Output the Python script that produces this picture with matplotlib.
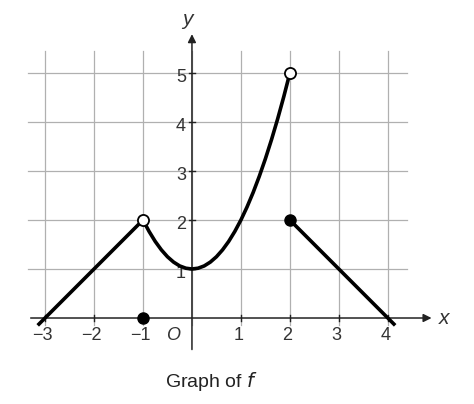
import matplotlib.pyplot as plt

plt.rcParams['font.family'] = ['Liberation Sans', 'DejaVu Sans']

# pieces of f
left_x = [-3.15, -1]
left_y = [-0.15, 2]
curve_x = [-1, -0.875, -0.75, -0.625, -0.5, -0.375, -0.25, -0.125, 0,
           0.125, 0.25, 0.375, 0.5, 0.625, 0.75, 0.875, 1,
           1.125, 1.25, 1.375, 1.5, 1.625, 1.75, 1.875, 2]
curve_y = [2, 1.766, 1.5625, 1.391, 1.25, 1.141, 1.0625, 1.016, 1,
           1.016, 1.0625, 1.141, 1.25, 1.391, 1.5625, 1.766, 2,
           2.266, 2.5625, 2.891, 3.25, 3.641, 4.0625, 4.516, 5]
right_x = [2, 4.15]
right_y = [2, -0.15]
open_pts = [(-1, 2), (2, 5)]
filled_pts = [(-1, 0), (2, 2)]
x_ticks = [-3, -2, -1, 1, 2, 3, 4]
y_ticks = [1, 2, 3, 4, 5]

fig = plt.figure(figsize=(4.74, 4.04), dpi=100)
ax = fig.add_axes([0, 0, 1, 1])
ax.set_xlim(-3.92, 5.76)
ax.set_ylim(-1.755, 6.49)
ax.axis('off')

grid_c = '#b0b0b0'
for gx in x_ticks + [0]:
    ax.plot([gx, gx], [-0.15, 5.45], color=grid_c, lw=0.9, zorder=1)
for gy in y_ticks:
    ax.plot([-3.35, 4.4], [gy, gy], color=grid_c, lw=0.9, zorder=1)

# axes with arrows
ax.annotate('', xy=(4.95, 0), xytext=(-3.35, 0),
            arrowprops=dict(arrowstyle='-|>', color='#222222', lw=1.1, mutation_scale=12), zorder=2)
ax.annotate('', xy=(0, 5.85), xytext=(0, -0.7),
            arrowprops=dict(arrowstyle='-|>', color='#222222', lw=1.1, mutation_scale=12), zorder=2)

for t in x_ticks:
    ax.plot([t, t], [-0.07, 0.07], color='#222222', lw=1, zorder=2)
    ax.text(t - 0.05, -0.18, '\u2212%d' % -t if t < 0 else str(t), ha='center', va='top',
            fontsize=13, color='#333333')
for t in y_ticks:
    ax.plot([-0.07, 0.07], [t, t], color='#222222', lw=1, zorder=2)
    ax.text(-0.12, t - 0.1, str(t), ha='right', va='center', fontsize=13, color='#333333')
ax.text(-0.38, -0.18, 'O', ha='center', va='top', fontsize=13, style='italic', color='#333333')
ax.text(5.05, 0, 'x', ha='left', va='center', fontsize=15, style='italic', color='#333333')
ax.text(-0.1, 6.1, 'y', ha='center', va='center', fontsize=15, style='italic', color='#333333')
ax.text(0.4, -1.3, 'Graph of $f$', ha='center', va='center', fontsize=14, color='#222222')

lw = 2.6
ax.plot(left_x, left_y, color='black', lw=lw, solid_capstyle='butt', zorder=3)
ax.plot(curve_x, curve_y, color='black', lw=lw, zorder=3)
ax.plot(right_x, right_y, color='black', lw=lw, solid_capstyle='butt', zorder=3)
for px, py in open_pts:
    ax.plot(px, py, 'o', ms=8, mfc='white', mec='black', mew=1.3, zorder=4)
for px, py in filled_pts:
    ax.plot(px, py, 'o', ms=8, color='black', zorder=4)

fig.savefig('out.png', dpi=100)
